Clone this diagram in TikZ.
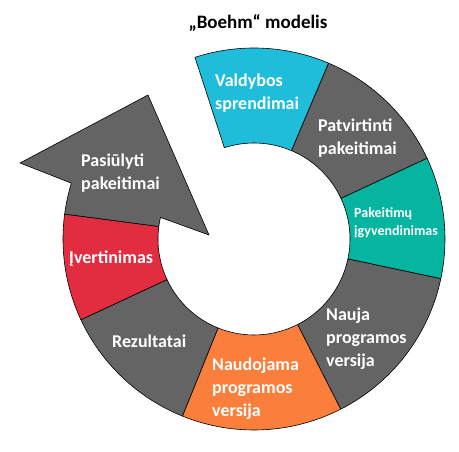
\documentclass[tikz,border=0pt]{standalone}
\usepackage{fontspec}
\setmainfont{Carlito}
\definecolor{segGray}{HTML}{646464}
\definecolor{segCyan}{HTML}{1FBDD9}
\definecolor{segTeal}{HTML}{05B5A0}
\definecolor{segRed}{HTML}{E22D40}
\definecolor{segOrange}{HTML}{FA7F3C}
\tikzset{
  seg/.style={draw=black, line width=0.6pt, line join=round},
  lbl/.style={text=white, font=\bfseries\fontsize{18}{23}\selectfont, align=left, anchor=west, inner sep=0pt},
  lblsmall/.style={lbl, font=\bfseries\fontsize{14}{18}\selectfont},
}
% ring segment: #1 start angle, #2 end angle
\newcommand{\ringseg}[3]{%
  \fill[#3] (#1:191) arc[start angle=#1, end angle=#2, radius=191]
    -- (#2:96) arc[start angle=#2, end angle=#1, radius=96] -- cycle;
  \draw[seg] (#1:191) arc[start angle=#1, end angle=#2, radius=191]
    -- (#2:96) arc[start angle=#2, end angle=#1, radius=96] -- cycle;}
\begin{document}
\begin{tikzpicture}[x=1pt, y=1pt]
\useasboundingbox (-254,-213) rectangle (205,239);

% ring
\ringseg{108}{67}{segCyan}
\ringseg{67}{25}{segGray}
\ringseg{25}{-12}{segTeal}
\ringseg{-12}{-63}{segGray}
\ringseg{-63}{-112}{segOrange}
\ringseg{248}{205}{segGray}
\ringseg{205}{172.5}{segRed}

% arrow head closing the cycle
\filldraw[seg, fill=segGray] (172.5:191) arc[start angle=172.5, end angle=163, radius=191]
  -- (-234,76) -- (-106,144) -- (-45,4) -- (167:96)
  arc[start angle=167, end angle=172.5, radius=96] -- cycle;

% labels
\node[text=black, font=\bfseries\fontsize{19}{23}\selectfont, inner sep=0pt] (title) at (4,216) {„Boehm“ modelis};
\node[lbl] (valdybos) at (-39,146) {Valdybos\\sprendimai};
\node[lbl] (patvirtinti) at (64,100.5) {Patvirtinti\\pakeitimai};
\node[lblsmall] (igyv) at (100,16) {Pakeitimų\\įgyvendinimas};
\node[lbl] (nauja) at (72,-100) {Nauja\\programos\\versija};
\node[lbl] (naudojama) at (-42,-150) {Naudojama\\programos\\versija};
\node[lbl] (rezultatai) at (-142,-102) {Rezultatai};
\node[lbl] (ivertinimas) at (-185,-20) {Įvertinimas};
\node[lbl] (pasiulyti) at (-173,66) {Pasiūlyti\\pakeitimai};
\end{tikzpicture}
\end{document}
